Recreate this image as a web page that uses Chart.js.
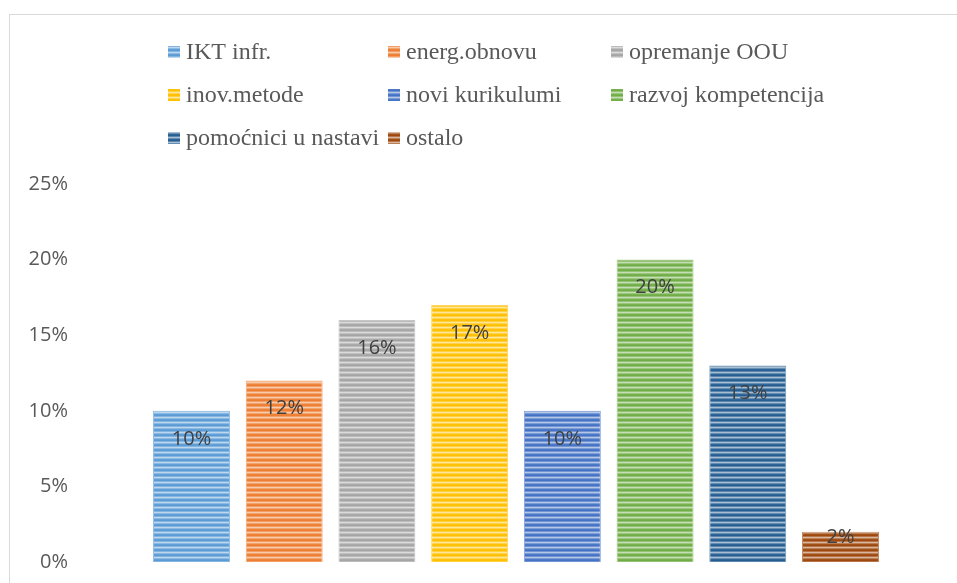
<!DOCTYPE html>
<html>
<head>
<meta charset="utf-8">
<title>Struktura ulaganja</title>
<script src="https://cdn.jsdelivr.net/npm/chart.js@4.4.1/dist/chart.umd.min.js"></script>
<style>
  html, body { margin: 0; padding: 0; background: #ffffff; overflow: hidden; }
  canvas { display: block; }
</style>
</head>
<body>
<canvas id="chart" width="957" height="583"></canvas>
<script>
// Categories of spending and their share (%)
const categories = [
  'IKT infr.',
  'energ.obnovu',
  'opremanje OOU',
  'inov.metode',
  'novi kurikulumi',
  'razvoj kompetencija',
  'pomoćnici u nastavi',
  'ostalo'
];
const shares = [10, 12, 16, 17, 10, 20, 13, 2];
const yTicks = [0, 5, 10, 15, 20, 25];
const seriesColors = ['#5B9BD5', '#ED7D31', '#A5A5A5', '#FFC000', '#4472C4', '#70AD47', '#255E91', '#9E480E'];

// Mix a hex colour with white by factor t (0..1)
function tint(hex, t) {
  const n = parseInt(hex.slice(1), 16);
  const r = (n >> 16) & 255, g = (n >> 8) & 255, b = n & 255;
  const m = c => Math.round(c + (255 - c) * t);
  return `rgb(${m(r)},${m(g)},${m(b)})`;
}

// Horizontal-stripe fill used for bars and legend swatches
function stripes(hex) {
  const c = document.createElement('canvas');
  c.width = 4; c.height = 5;
  const g = c.getContext('2d');
  const rows = [0, 0.25, 0.6, 0.3, 0.05];
  rows.forEach((t, i) => { g.fillStyle = tint(hex, t); g.fillRect(0, i, 4, 1); });
  return g.createPattern(c, 'repeat');
}

const datasets = categories.map((name, i) => ({
  label: name,
  data: [shares[i]],
  backgroundColor: stripes(seriesColors[i]),
  borderColor: tint(seriesColors[i], 0.35),
  borderWidth: 1,
  borderSkipped: 'bottom'
}));

// Frame around the chart
const framePlugin = {
  id: 'frame',
  beforeDraw(chart) {
    const ctx = chart.ctx;
    ctx.save();
    ctx.fillStyle = '#ffffff';
    ctx.fillRect(0, 0, chart.width, chart.height);
    ctx.strokeStyle = '#d9d9d9';
    ctx.lineWidth = 1;
    ctx.strokeRect(9.5, 14.5, chart.width + 20, chart.height + 20);
    ctx.restore();
  }
};

// Value labels at the inside end of each bar
const valueLabels = {
  id: 'valueLabels',
  afterDatasetsDraw(chart) {
    const ctx = chart.ctx;
    ctx.save();
    ctx.font = '20px "Open Sans"';
    ctx.fillStyle = '#404040';
    ctx.textAlign = 'center';
    ctx.textBaseline = 'middle';
    chart.data.datasets.forEach((ds, i) => {
      const meta = chart.getDatasetMeta(i);
      meta.data.forEach((bar, j) => {
        const h = bar.base - bar.y;
        const y = h > 56 ? bar.y + 28 : bar.y + 6;
        ctx.fillText(ds.data[j] + '%', bar.x, y);
      });
    });
    ctx.restore();
  }
};

// Legend laid out in three fixed columns
const gridLegend = {
  id: 'gridLegend',
  afterDraw(chart) {
    const ctx = chart.ctx;
    const cols = [168, 388, 611];
    const rows = [52, 95, 138];
    ctx.save();
    ctx.font = '24px "Liberation Serif"';
    ctx.textBaseline = 'middle';
    chart.data.datasets.forEach((ds, i) => {
      const x = cols[i % 3];
      const y = rows[Math.floor(i / 3)];
      ctx.fillStyle = ds.backgroundColor;
      ctx.fillRect(x, y - 6, 12, 12);
      ctx.fillStyle = '#595959';
      ctx.fillText(ds.label, x + 18, y + 1);
    });
    ctx.restore();
  }
};

new Chart(document.getElementById('chart'), {
  type: 'bar',
  data: { labels: [''], datasets },
  options: {
    responsive: false,
    animation: false,
    layout: { padding: { top: 184, bottom: 21, right: 21, left: 0 } },
    datasets: { bar: { categoryPercentage: 0.883, barPercentage: 0.83 } },
    plugins: { legend: { display: false }, tooltip: { enabled: false } },
    scales: {
      x: { display: false },
      y: {
        min: yTicks[0],
        max: yTicks[yTicks.length - 1],
        afterFit(scale) {
          scale.width = 96;
          scale.paddingTop = 0;
          scale.paddingBottom = 0;
        },
        afterBuildTicks(scale) { scale.ticks = yTicks.map(v => ({ value: v })); },
        grid: { display: false, drawTicks: false },
        border: { display: false },
        ticks: {
          padding: 28,
          color: '#595959',
          font: { family: '"Open Sans"', size: 20 },
          callback: v => v + '%'
        }
      }
    }
  },
  plugins: [framePlugin, valueLabels, gridLegend]
});
</script>
</body>
</html>
